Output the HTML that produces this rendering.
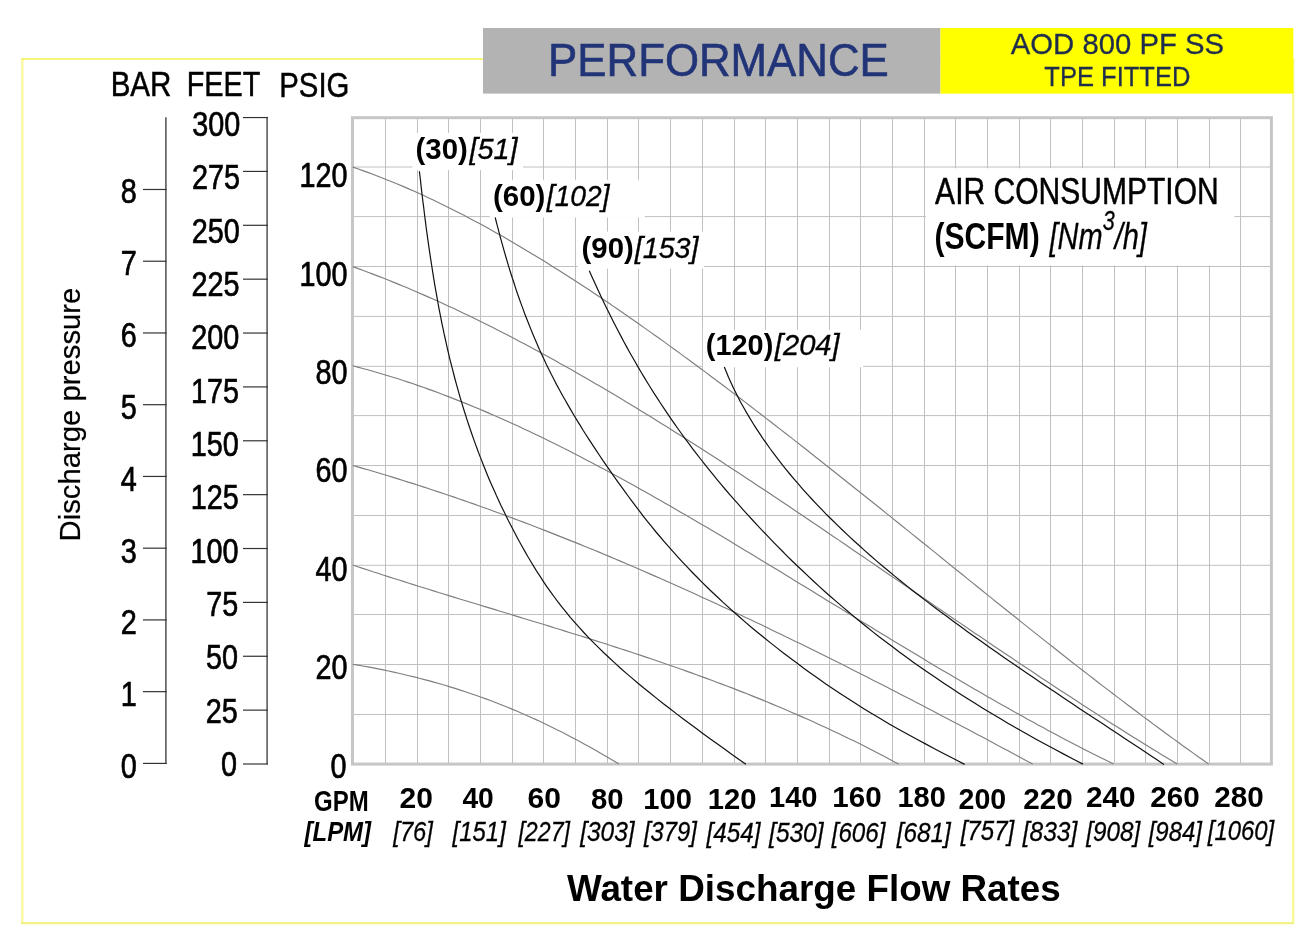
<!DOCTYPE html>
<html lang="en"><head><meta charset="utf-8"><title>Performance - AOD 800 PF SS</title>
<style>
html,body{margin:0;padding:0;background:#fff;}
body{width:1311px;height:943px;overflow:hidden;}
svg{display:block;font-family:"Liberation Sans",sans-serif;}
.b{font-weight:bold;}
.i{font-style:italic;}
</style></head><body>
<svg width="1311" height="943" viewBox="0 0 1311 943" role="img" aria-label="Performance chart AOD 800 PF SS TPE fitted">
<rect width="1311" height="943" fill="#fff"/>
<g fill="none" stroke-width="2.2"><path d="M22.3,59 V923.1" stroke="#fbf9a6" stroke-width="2.6"/><path d="M21,59 H1294" stroke="#f6f67c"/><path d="M21,923.1 H1294" stroke="#f2f286"/><path d="M1293.2,59 V923.1" stroke="#f5f88e"/></g>
<rect x="483" y="28" width="457.5" height="65.6" fill="#b3b3b3"/>
<rect x="940.5" y="28" width="352.8" height="65.6" fill="#ffff00"/>
<g stroke="#c0c0c0" stroke-width="1" fill="none">
<line x1="385.50" y1="117.7" x2="385.50" y2="764.1"/>
<line x1="417.50" y1="117.7" x2="417.50" y2="764.1"/>
<line x1="448.50" y1="117.7" x2="448.50" y2="764.1"/>
<line x1="480.50" y1="117.7" x2="480.50" y2="764.1"/>
<line x1="512.50" y1="117.7" x2="512.50" y2="764.1"/>
<line x1="543.50" y1="117.7" x2="543.50" y2="764.1"/>
<line x1="575.50" y1="117.7" x2="575.50" y2="764.1"/>
<line x1="607.50" y1="117.7" x2="607.50" y2="764.1"/>
<line x1="638.50" y1="117.7" x2="638.50" y2="764.1"/>
<line x1="670.50" y1="117.7" x2="670.50" y2="764.1"/>
<line x1="702.50" y1="117.7" x2="702.50" y2="764.1"/>
<line x1="734.50" y1="117.7" x2="734.50" y2="764.1"/>
<line x1="765.50" y1="117.7" x2="765.50" y2="764.1"/>
<line x1="797.50" y1="117.7" x2="797.50" y2="764.1"/>
<line x1="829.50" y1="117.7" x2="829.50" y2="764.1"/>
<line x1="860.50" y1="117.7" x2="860.50" y2="764.1"/>
<line x1="892.50" y1="117.7" x2="892.50" y2="764.1"/>
<line x1="924.50" y1="117.7" x2="924.50" y2="764.1"/>
<line x1="955.50" y1="117.7" x2="955.50" y2="764.1"/>
<line x1="987.50" y1="117.7" x2="987.50" y2="764.1"/>
<line x1="1019.50" y1="117.7" x2="1019.50" y2="764.1"/>
<line x1="1050.50" y1="117.7" x2="1050.50" y2="764.1"/>
<line x1="1082.50" y1="117.7" x2="1082.50" y2="764.1"/>
<line x1="1114.50" y1="117.7" x2="1114.50" y2="764.1"/>
<line x1="1145.50" y1="117.7" x2="1145.50" y2="764.1"/>
<line x1="1177.50" y1="117.7" x2="1177.50" y2="764.1"/>
<line x1="1209.50" y1="117.7" x2="1209.50" y2="764.1"/>
<line x1="1240.50" y1="117.7" x2="1240.50" y2="764.1"/>
<line x1="352.45" y1="714.50" x2="1271.4" y2="714.50"/>
<line x1="352.45" y1="664.50" x2="1271.4" y2="664.50"/>
<line x1="352.45" y1="614.50" x2="1271.4" y2="614.50"/>
<line x1="352.45" y1="565.30" x2="1271.4" y2="565.30"/>
<line x1="352.45" y1="515.50" x2="1271.4" y2="515.50"/>
<line x1="352.45" y1="465.50" x2="1271.4" y2="465.50"/>
<line x1="352.45" y1="415.60" x2="1271.4" y2="415.60"/>
<line x1="352.45" y1="366.30" x2="1271.4" y2="366.30"/>
<line x1="352.45" y1="316.40" x2="1271.4" y2="316.40"/>
<line x1="352.45" y1="266.50" x2="1271.4" y2="266.50"/>
<line x1="352.45" y1="216.60" x2="1271.4" y2="216.60"/>
<line x1="352.45" y1="167.00" x2="1271.4" y2="167.00"/>
</g>
<rect x="412.4" y="132.9" width="110.7" height="37.2" fill="#fff"/>
<rect x="489.8" y="179.9" width="155" height="37.6" fill="#fff"/>
<rect x="577.7" y="231.6" width="126.1" height="37" fill="#fff"/>
<rect x="926" y="168.3" width="308.3" height="97.2" fill="#fff"/>
<rect x="352.45" y="117.7" width="918.95" height="646.4" fill="none" stroke="#c6c6c6" stroke-width="3"/>
<g fill="none" stroke="#7e7e7e" stroke-width="1.15">
<path d="M352.7,167.1 L357.7,168.8 L362.8,170.6 L367.8,172.4 L372.8,174.3 L377.9,176.2 L382.9,178.2 L387.9,180.2 L393.0,182.2 L398.0,184.3 L403.1,186.4 L408.1,188.6 L413.1,190.8 L418.2,193.0 L423.2,195.3 L428.2,197.7 L433.3,200.1 L438.3,202.5 L443.3,204.9 L448.4,207.4 L453.4,209.9 L458.4,212.5 L463.5,215.1 L468.5,217.7 L473.5,220.4 L478.6,223.1 L483.6,225.8 L488.7,228.6 L493.7,231.4 L498.7,234.2 L503.8,237.1 L508.8,240.0 L513.8,242.9 L518.9,245.9 L523.9,248.9 L528.9,251.9 L534.0,254.9 L539.0,258.0 L544.0,261.1 L549.1,264.2 L554.1,267.4 L559.1,270.6 L564.2,273.8 L569.2,277.0 L574.3,280.2 L579.3,283.5 L584.3,286.8 L589.4,290.1 L594.4,293.5 L599.4,296.8 L604.5,300.2 L609.5,303.6 L614.5,307.1 L619.6,310.5 L624.6,314.0 L629.6,317.5 L634.7,321.0 L639.7,324.5 L644.7,328.1 L649.8,331.6 L654.8,335.2 L659.9,338.8 L664.9,342.4 L669.9,346.1 L675.0,349.7 L680.0,353.4 L685.0,357.1 L690.1,360.8 L695.1,364.5 L700.1,368.2 L705.2,371.9 L710.2,375.7 L715.2,379.5 L720.3,383.2 L725.3,387.0 L730.3,390.9 L735.4,394.7 L740.4,398.5 L745.5,402.4 L750.5,406.2 L755.5,410.1 L760.6,414.0 L765.6,417.9 L770.6,421.8 L775.7,425.7 L780.7,429.6 L785.7,433.5 L790.8,437.4 L795.8,441.4 L800.8,445.3 L805.9,449.3 L810.9,453.3 L815.9,457.2 L821.0,461.2 L826.0,465.2 L831.1,469.2 L836.1,473.2 L841.1,477.2 L846.2,481.2 L851.2,485.2 L856.2,489.2 L861.3,493.2 L866.3,497.3 L871.3,501.3 L876.4,505.3 L881.4,509.3 L886.4,513.4 L891.5,517.4 L896.5,521.5 L901.5,525.5 L906.6,529.6 L911.6,533.6 L916.7,537.7 L921.7,541.8 L926.7,545.8 L931.8,549.9 L936.8,553.9 L941.8,558.0 L946.9,562.1 L951.9,566.2 L956.9,570.2 L962.0,574.3 L967.0,578.4 L972.0,582.4 L977.1,586.5 L982.1,590.5 L987.1,594.6 L992.2,598.6 L997.2,602.7 L1002.3,606.7 L1007.3,610.8 L1012.3,614.8 L1017.4,618.8 L1022.4,622.9 L1027.4,626.9 L1032.5,630.9 L1037.5,634.9 L1042.5,638.9 L1047.6,642.9 L1052.6,646.8 L1057.6,650.8 L1062.7,654.8 L1067.7,658.7 L1072.7,662.7 L1077.8,666.6 L1082.8,670.5 L1087.9,674.4 L1092.9,678.3 L1097.9,682.2 L1103.0,686.1 L1108.0,689.9 L1113.0,693.8 L1118.1,697.6 L1123.1,701.4 L1128.1,705.2 L1133.2,709.0 L1138.2,712.8 L1143.2,716.6 L1148.3,720.3 L1153.3,724.1 L1158.3,727.8 L1163.4,731.5 L1168.4,735.2 L1173.5,738.9 L1178.5,742.5 L1183.5,746.2 L1188.6,749.8 L1193.6,753.4 L1198.6,757.0 L1203.7,760.5 L1208.7,764.1"/>
<path d="M352.7,266.6 L357.8,268.4 L362.8,270.3 L367.9,272.2 L372.9,274.1 L378.0,276.1 L383.1,278.0 L388.1,280.0 L393.2,282.1 L398.2,284.1 L403.3,286.2 L408.3,288.3 L413.4,290.5 L418.5,292.7 L423.5,294.9 L428.6,297.1 L433.6,299.3 L438.7,301.6 L443.8,303.9 L448.8,306.3 L453.9,308.6 L458.9,311.0 L464.0,313.4 L469.1,315.8 L474.1,318.3 L479.2,320.8 L484.2,323.3 L489.3,325.8 L494.3,328.3 L499.4,330.9 L504.5,333.5 L509.5,336.1 L514.6,338.7 L519.6,341.4 L524.7,344.1 L529.8,346.8 L534.8,349.5 L539.9,352.2 L544.9,355.0 L550.0,357.8 L555.1,360.6 L560.1,363.4 L565.2,366.2 L570.2,369.1 L575.3,372.0 L580.4,374.9 L585.4,377.8 L590.5,380.7 L595.5,383.7 L600.6,386.6 L605.6,389.6 L610.7,392.6 L615.8,395.6 L620.8,398.6 L625.9,401.7 L630.9,404.7 L636.0,407.8 L641.1,410.9 L646.1,414.0 L651.2,417.1 L656.2,420.3 L661.3,423.4 L666.4,426.6 L671.4,429.7 L676.5,432.9 L681.5,436.1 L686.6,439.3 L691.6,442.5 L696.7,445.8 L701.8,449.0 L706.8,452.3 L711.9,455.5 L716.9,458.8 L722.0,462.1 L727.1,465.4 L732.1,468.7 L737.2,472.0 L742.2,475.3 L747.3,478.7 L752.4,482.0 L757.4,485.4 L762.5,488.7 L767.5,492.1 L772.6,495.5 L777.6,498.8 L782.7,502.2 L787.8,505.6 L792.8,509.0 L797.9,512.4 L802.9,515.8 L808.0,519.3 L813.1,522.7 L818.1,526.1 L823.2,529.5 L828.2,533.0 L833.3,536.4 L838.4,539.9 L843.4,543.3 L848.5,546.8 L853.5,550.2 L858.6,553.7 L863.6,557.1 L868.7,560.6 L873.8,564.0 L878.8,567.5 L883.9,571.0 L888.9,574.4 L894.0,577.9 L899.1,581.4 L904.1,584.8 L909.2,588.3 L914.2,591.8 L919.3,595.2 L924.4,598.7 L929.4,602.1 L934.5,605.6 L939.5,609.1 L944.6,612.5 L949.6,616.0 L954.7,619.4 L959.8,622.9 L964.8,626.3 L969.9,629.7 L974.9,633.2 L980.0,636.6 L985.1,640.0 L990.1,643.5 L995.2,646.9 L1000.2,650.3 L1005.3,653.7 L1010.4,657.1 L1015.4,660.5 L1020.5,663.9 L1025.5,667.3 L1030.6,670.6 L1035.7,674.0 L1040.7,677.4 L1045.8,680.7 L1050.8,684.0 L1055.9,687.4 L1060.9,690.7 L1066.0,694.0 L1071.1,697.3 L1076.1,700.6 L1081.2,703.9 L1086.2,707.2 L1091.3,710.5 L1096.4,713.7 L1101.4,717.0 L1106.5,720.2 L1111.5,723.4 L1116.6,726.6 L1121.7,729.8 L1126.7,733.0 L1131.8,736.2 L1136.8,739.3 L1141.9,742.5 L1146.9,745.6 L1152.0,748.7 L1157.1,751.8 L1162.1,754.9 L1167.2,758.0 L1172.2,761.1 L1177.3,764.1"/>
<path d="M352.7,365.8 L357.7,367.1 L362.8,368.5 L367.8,369.8 L372.9,371.2 L377.9,372.7 L382.9,374.2 L388.0,375.7 L393.0,377.3 L398.1,378.8 L403.1,380.5 L408.1,382.1 L413.2,383.8 L418.2,385.6 L423.2,387.3 L428.3,389.1 L433.3,390.9 L438.4,392.8 L443.4,394.7 L448.4,396.6 L453.5,398.6 L458.5,400.6 L463.6,402.6 L468.6,404.6 L473.6,406.7 L478.7,408.8 L483.7,410.9 L488.8,413.1 L493.8,415.3 L498.8,417.5 L503.9,419.7 L508.9,422.0 L514.0,424.3 L519.0,426.6 L524.0,429.0 L529.1,431.3 L534.1,433.7 L539.1,436.1 L544.2,438.6 L549.2,441.0 L554.3,443.5 L559.3,446.0 L564.3,448.6 L569.4,451.1 L574.4,453.7 L579.5,456.3 L584.5,458.9 L589.5,461.6 L594.6,464.2 L599.6,466.9 L604.7,469.6 L609.7,472.3 L614.7,475.0 L619.8,477.8 L624.8,480.5 L629.8,483.3 L634.9,486.1 L639.9,488.9 L645.0,491.7 L650.0,494.6 L655.0,497.4 L660.1,500.3 L665.1,503.2 L670.2,506.1 L675.2,509.0 L680.2,511.9 L685.3,514.8 L690.3,517.8 L695.4,520.7 L700.4,523.7 L705.4,526.6 L710.5,529.6 L715.5,532.6 L720.6,535.6 L725.6,538.6 L730.6,541.6 L735.7,544.7 L740.7,547.7 L745.7,550.7 L750.8,553.8 L755.8,556.8 L760.9,559.9 L765.9,562.9 L770.9,566.0 L776.0,569.1 L781.0,572.1 L786.1,575.2 L791.1,578.3 L796.1,581.4 L801.2,584.4 L806.2,587.5 L811.3,590.6 L816.3,593.7 L821.3,596.8 L826.4,599.9 L831.4,603.0 L836.5,606.1 L841.5,609.1 L846.5,612.2 L851.6,615.3 L856.6,618.4 L861.6,621.5 L866.7,624.6 L871.7,627.6 L876.8,630.7 L881.8,633.8 L886.8,636.8 L891.9,639.9 L896.9,643.0 L902.0,646.0 L907.0,649.1 L912.0,652.1 L917.1,655.1 L922.1,658.1 L927.2,661.2 L932.2,664.2 L937.2,667.2 L942.3,670.2 L947.3,673.1 L952.3,676.1 L957.4,679.1 L962.4,682.0 L967.5,685.0 L972.5,687.9 L977.5,690.8 L982.6,693.8 L987.6,696.7 L992.7,699.5 L997.7,702.4 L1002.7,705.3 L1007.8,708.1 L1012.8,711.0 L1017.9,713.8 L1022.9,716.6 L1027.9,719.4 L1033.0,722.1 L1038.0,724.9 L1043.1,727.6 L1048.1,730.4 L1053.1,733.1 L1058.2,735.8 L1063.2,738.4 L1068.2,741.1 L1073.3,743.7 L1078.3,746.3 L1083.4,748.9 L1088.4,751.5 L1093.4,754.1 L1098.5,756.6 L1103.5,759.1 L1108.6,761.6 L1113.6,764.1"/>
<path d="M352.7,465.5 L357.7,466.9 L362.8,468.4 L367.8,469.8 L372.9,471.3 L377.9,472.8 L382.9,474.3 L388.0,475.8 L393.0,477.4 L398.0,478.9 L403.1,480.5 L408.1,482.1 L413.2,483.6 L418.2,485.3 L423.2,486.9 L428.3,488.5 L433.3,490.2 L438.3,491.9 L443.4,493.5 L448.4,495.2 L453.5,496.9 L458.5,498.7 L463.5,500.4 L468.6,502.2 L473.6,503.9 L478.6,505.7 L483.7,507.5 L488.7,509.3 L493.8,511.2 L498.8,513.0 L503.8,514.8 L508.9,516.7 L513.9,518.6 L518.9,520.5 L524.0,522.4 L529.0,524.3 L534.1,526.2 L539.1,528.2 L544.1,530.1 L549.2,532.1 L554.2,534.1 L559.2,536.1 L564.3,538.1 L569.3,540.1 L574.4,542.1 L579.4,544.1 L584.4,546.2 L589.5,548.3 L594.5,550.3 L599.6,552.4 L604.6,554.5 L609.6,556.6 L614.7,558.7 L619.7,560.9 L624.7,563.0 L629.8,565.2 L634.8,567.3 L639.9,569.5 L644.9,571.7 L649.9,573.9 L655.0,576.1 L660.0,578.3 L665.0,580.5 L670.1,582.8 L675.1,585.0 L680.2,587.3 L685.2,589.5 L690.2,591.8 L695.3,594.1 L700.3,596.4 L705.3,598.7 L710.4,601.0 L715.4,603.3 L720.5,605.7 L725.5,608.0 L730.5,610.3 L735.6,612.7 L740.6,615.1 L745.6,617.4 L750.7,619.8 L755.7,622.2 L760.8,624.6 L765.8,627.0 L770.8,629.5 L775.9,631.9 L780.9,634.3 L785.9,636.8 L791.0,639.2 L796.0,641.7 L801.1,644.1 L806.1,646.6 L811.1,649.1 L816.2,651.6 L821.2,654.1 L826.3,656.6 L831.3,659.1 L836.3,661.6 L841.4,664.1 L846.4,666.6 L851.4,669.2 L856.5,671.7 L861.5,674.3 L866.6,676.8 L871.6,679.4 L876.6,682.0 L881.7,684.5 L886.7,687.1 L891.7,689.7 L896.8,692.3 L901.8,694.9 L906.9,697.5 L911.9,700.1 L916.9,702.7 L922.0,705.3 L927.0,708.0 L932.0,710.6 L937.1,713.2 L942.1,715.9 L947.2,718.5 L952.2,721.2 L957.2,723.8 L962.3,726.5 L967.3,729.1 L972.3,731.8 L977.4,734.5 L982.4,737.1 L987.5,739.8 L992.5,742.5 L997.5,745.2 L1002.6,747.9 L1007.6,750.6 L1012.6,753.3 L1017.7,756.0 L1022.7,758.7 L1027.8,761.4 L1032.8,764.1"/>
<path d="M352.7,565.0 L357.8,566.7 L362.8,568.4 L367.9,570.0 L372.9,571.7 L378.0,573.3 L383.0,575.0 L388.1,576.6 L393.1,578.2 L398.2,579.8 L403.3,581.4 L408.3,583.0 L413.4,584.6 L418.4,586.2 L423.5,587.8 L428.5,589.3 L433.6,590.9 L438.6,592.5 L443.7,594.0 L448.8,595.6 L453.8,597.1 L458.9,598.7 L463.9,600.2 L469.0,601.8 L474.0,603.3 L479.1,604.8 L484.1,606.4 L489.2,607.9 L494.3,609.4 L499.3,611.0 L504.4,612.5 L509.4,614.0 L514.5,615.6 L519.5,617.1 L524.6,618.7 L529.6,620.2 L534.7,621.7 L539.8,623.3 L544.8,624.8 L549.9,626.4 L554.9,628.0 L560.0,629.5 L565.0,631.1 L570.1,632.7 L575.1,634.2 L580.2,635.8 L585.3,637.4 L590.3,639.0 L595.4,640.6 L600.4,642.2 L605.5,643.8 L610.5,645.5 L615.6,647.1 L620.6,648.7 L625.7,650.4 L630.8,652.0 L635.8,653.7 L640.9,655.4 L645.9,657.1 L651.0,658.8 L656.0,660.5 L661.1,662.2 L666.1,664.0 L671.2,665.7 L676.3,667.5 L681.3,669.3 L686.4,671.1 L691.4,672.9 L696.5,674.7 L701.5,676.6 L706.6,678.4 L711.6,680.3 L716.7,682.2 L721.8,684.1 L726.8,686.0 L731.9,687.9 L736.9,689.9 L742.0,691.9 L747.0,693.8 L752.1,695.9 L757.1,697.9 L762.2,699.9 L767.3,702.0 L772.3,704.1 L777.4,706.2 L782.4,708.3 L787.5,710.5 L792.5,712.7 L797.6,714.9 L802.6,717.1 L807.7,719.3 L812.8,721.6 L817.8,723.9 L822.9,726.2 L827.9,728.5 L833.0,730.9 L838.0,733.3 L843.1,735.7 L848.1,738.2 L853.2,740.6 L858.3,743.1 L863.3,745.6 L868.4,748.2 L873.4,750.8 L878.5,753.4 L883.5,756.0 L888.6,758.7 L893.6,761.4 L898.7,764.1"/>
<path d="M352.7,664.2 L357.8,665.1 L362.9,666.0 L368.1,666.9 L373.2,667.9 L378.3,668.9 L383.4,669.9 L388.5,671.0 L393.7,672.1 L398.8,673.3 L403.9,674.5 L409.0,675.7 L414.2,676.9 L419.3,678.2 L424.4,679.6 L429.5,680.9 L434.6,682.4 L439.8,683.8 L444.9,685.3 L450.0,686.9 L455.1,688.4 L460.2,690.1 L465.4,691.7 L470.5,693.5 L475.6,695.2 L480.7,697.0 L485.9,698.9 L491.0,700.8 L496.1,702.7 L501.2,704.7 L506.3,706.8 L511.5,708.9 L516.6,711.0 L521.7,713.2 L526.8,715.5 L531.9,717.8 L537.1,720.1 L542.2,722.5 L547.3,724.9 L552.4,727.4 L557.5,730.0 L562.7,732.6 L567.8,735.2 L572.9,737.9 L578.0,740.6 L583.2,743.4 L588.3,746.2 L593.4,749.1 L598.5,752.0 L603.6,755.0 L608.8,758.0 L613.9,761.0 L619.0,764.1"/>
</g>
<rect x="702.9" y="329.8" width="160.3" height="37.4" fill="#fff"/>
<g fill="none" stroke="#111" stroke-width="1.2">
<path d="M419.4,171.2 L420.0,176.3 L420.6,181.3 L421.1,186.4 L421.7,191.5 L422.3,196.5 L422.9,201.6 L423.6,206.7 L424.2,211.8 L424.8,216.8 L425.5,221.9 L426.1,227.0 L426.8,232.0 L427.5,237.1 L428.2,242.2 L428.9,247.2 L429.7,252.3 L430.4,257.4 L431.2,262.4 L432.0,267.5 L432.8,272.6 L433.6,277.7 L434.4,282.7 L435.3,287.8 L436.2,292.9 L437.1,297.9 L438.0,303.0 L438.9,308.1 L439.9,313.1 L440.9,318.2 L441.9,323.3 L443.0,328.3 L444.0,333.4 L445.2,338.5 L446.3,343.6 L447.4,348.6 L448.6,353.7 L449.8,358.8 L451.1,363.8 L452.4,368.9 L453.7,374.0 L455.0,379.0 L456.4,384.1 L457.8,389.2 L459.2,394.2 L460.7,399.3 L462.2,404.4 L463.8,409.5 L465.4,414.5 L467.0,419.6 L468.7,424.7 L470.4,429.7 L472.1,434.8 L473.9,439.9 L475.7,444.9 L477.6,450.0 L479.5,455.1 L481.5,460.1 L483.5,465.2 L485.5,470.3 L487.6,475.4 L489.7,480.4 L491.9,485.5 L494.2,490.6 L496.4,495.6 L498.8,500.7 L501.1,505.8 L503.6,510.8 L506.1,515.9 L508.6,521.0 L511.2,526.0 L513.8,531.1 L516.5,536.2 L519.2,541.3 L522.0,546.3 L524.9,551.4 L527.8,556.5 L530.8,561.5 L533.9,566.6 L537.0,571.7 L540.3,576.7 L543.6,581.8 L547.0,586.9 L550.6,591.9 L554.3,597.0 L558.1,602.1 L562.0,607.2 L566.1,612.2 L570.3,617.3 L574.7,622.4 L579.2,627.4 L583.8,632.5 L588.6,637.6 L593.5,642.6 L598.6,647.7 L603.8,652.8 L609.2,657.8 L614.7,662.9 L620.3,668.0 L626.1,673.1 L632.0,678.1 L638.0,683.2 L644.1,688.3 L650.4,693.3 L656.7,698.4 L663.1,703.5 L669.7,708.5 L676.3,713.6 L683.0,718.7 L689.8,723.7 L696.6,728.8 L703.5,733.9 L710.4,739.0 L717.5,744.0 L724.5,749.1 L731.6,754.2 L738.7,759.2 L745.9,764.3"/>
<path d="M495.2,217.5 L496.5,222.6 L497.8,227.6 L499.1,232.7 L500.5,237.8 L501.9,242.8 L503.3,247.9 L504.7,252.9 L506.2,258.0 L507.7,263.1 L509.2,268.1 L510.8,273.2 L512.4,278.3 L514.1,283.3 L515.7,288.4 L517.4,293.5 L519.2,298.5 L521.0,303.6 L522.9,308.6 L524.7,313.7 L526.7,318.8 L528.7,323.8 L530.7,328.9 L532.8,334.0 L534.9,339.0 L537.1,344.1 L539.3,349.2 L541.6,354.2 L544.0,359.3 L546.4,364.4 L548.9,369.4 L551.4,374.5 L554.0,379.5 L556.6,384.6 L559.4,389.7 L562.1,394.7 L565.0,399.8 L567.9,404.9 L570.8,409.9 L573.8,415.0 L576.9,420.1 L580.0,425.1 L583.1,430.2 L586.3,435.2 L589.6,440.3 L592.9,445.4 L596.2,450.4 L599.6,455.5 L603.0,460.6 L606.5,465.6 L610.0,470.7 L613.6,475.8 L617.1,480.8 L620.8,485.9 L624.4,490.9 L628.1,496.0 L631.9,501.1 L635.7,506.1 L639.5,511.2 L643.4,516.3 L647.4,521.3 L651.5,526.4 L655.6,531.5 L659.9,536.5 L664.2,541.6 L668.6,546.7 L673.1,551.7 L677.7,556.8 L682.3,561.8 L687.1,566.9 L691.9,572.0 L696.9,577.0 L701.9,582.1 L707.1,587.2 L712.3,592.2 L717.7,597.3 L723.1,602.4 L728.7,607.4 L734.3,612.5 L740.1,617.5 L745.9,622.6 L751.9,627.7 L758.0,632.7 L764.2,637.8 L770.5,642.9 L776.9,647.9 L783.4,653.0 L790.1,658.1 L796.9,663.1 L803.7,668.2 L810.7,673.2 L817.9,678.3 L825.1,683.4 L832.6,688.4 L840.1,693.5 L847.9,698.6 L855.7,703.6 L863.8,708.7 L872.1,713.8 L880.6,718.8 L889.2,723.9 L898.1,729.0 L907.2,734.0 L916.4,739.1 L925.9,744.1 L935.4,749.2 L945.0,754.3 L954.8,759.3 L964.6,764.4"/>
<path d="M589.3,270.8 L591.6,275.9 L593.9,281.0 L596.2,286.1 L598.5,291.1 L600.9,296.2 L603.3,301.3 L605.8,306.4 L608.3,311.5 L610.8,316.6 L613.4,321.7 L616.0,326.7 L618.6,331.8 L621.3,336.9 L624.0,342.0 L626.8,347.1 L629.6,352.2 L632.5,357.3 L635.4,362.3 L638.3,367.4 L641.3,372.5 L644.4,377.6 L647.5,382.7 L650.6,387.8 L653.8,392.9 L657.1,397.9 L660.4,403.0 L663.8,408.1 L667.2,413.2 L670.7,418.3 L674.2,423.4 L677.8,428.5 L681.4,433.5 L685.1,438.6 L688.9,443.7 L692.7,448.8 L696.6,453.9 L700.6,459.0 L704.6,464.1 L708.6,469.1 L712.7,474.2 L716.9,479.3 L721.1,484.4 L725.4,489.5 L729.8,494.6 L734.2,499.7 L738.7,504.7 L743.2,509.8 L747.8,514.9 L752.5,520.0 L757.2,525.1 L761.9,530.2 L766.8,535.2 L771.7,540.3 L776.6,545.4 L781.7,550.5 L786.7,555.6 L791.9,560.7 L797.2,565.8 L802.5,570.8 L807.9,575.9 L813.3,581.0 L818.9,586.1 L824.5,591.2 L830.2,596.3 L836.1,601.4 L842.0,606.4 L848.0,611.5 L854.1,616.6 L860.3,621.7 L866.5,626.8 L872.9,631.9 L879.4,637.0 L886.1,642.0 L892.8,647.1 L899.6,652.2 L906.6,657.3 L913.6,662.4 L920.8,667.5 L928.1,672.6 L935.5,677.6 L943.1,682.7 L950.8,687.8 L958.6,692.9 L966.5,698.0 L974.6,703.1 L982.8,708.2 L991.2,713.2 L999.7,718.3 L1008.3,723.4 L1017.1,728.5 L1026.0,733.6 L1035.1,738.7 L1044.4,743.8 L1053.8,748.8 L1063.3,753.9 L1073.0,759.0 L1082.9,764.1"/>
<path d="M724.3,367.0 L726.4,372.1 L728.5,377.2 L730.8,382.3 L733.2,387.4 L735.7,392.5 L738.2,397.6 L740.9,402.7 L743.8,407.8 L746.7,412.9 L749.7,417.9 L752.8,423.0 L756.0,428.1 L759.4,433.2 L762.8,438.3 L766.4,443.4 L770.0,448.5 L773.8,453.6 L777.6,458.7 L781.6,463.8 L785.6,468.9 L789.8,474.0 L794.1,479.1 L798.5,484.2 L802.9,489.3 L807.5,494.4 L812.2,499.5 L817.0,504.6 L821.9,509.7 L826.8,514.8 L831.9,519.8 L837.1,524.9 L842.4,530.0 L847.8,535.1 L853.3,540.2 L858.9,545.3 L864.5,550.4 L870.3,555.5 L876.2,560.6 L882.2,565.7 L888.3,570.8 L894.4,575.9 L900.7,581.0 L907.1,586.1 L913.5,591.2 L920.1,596.3 L926.7,601.4 L933.4,606.5 L940.1,611.6 L947.0,616.6 L953.9,621.7 L960.9,626.8 L967.9,631.9 L975.0,637.0 L982.2,642.1 L989.4,647.2 L996.7,652.3 L1004.0,657.4 L1011.4,662.5 L1018.8,667.6 L1026.3,672.7 L1033.8,677.8 L1041.3,682.9 L1048.9,688.0 L1056.5,693.1 L1064.1,698.2 L1071.7,703.3 L1079.3,708.4 L1087.0,713.5 L1094.7,718.5 L1102.4,723.6 L1110.1,728.7 L1117.8,733.8 L1125.5,738.9 L1133.2,744.0 L1140.9,749.1 L1148.6,754.2 L1156.2,759.3 L1163.9,764.4"/>
</g>
<text transform="translate(548.10,75.8) scale(0.9672,1)" font-size="45.3" fill="#223478" stroke="#223478" stroke-width="0.6">PERFORMANCE</text>
<text transform="translate(1010.80,53.5) scale(0.9636,1)" font-size="30.4" fill="#1f2d4d" stroke="#1f2d4d" stroke-width="0.3">AOD 800 PF SS</text>
<text transform="translate(1044.30,85.6) scale(0.9394,1)" font-size="27.2" fill="#1f2d4d" stroke="#1f2d4d" stroke-width="0.3">TPE FITTED</text>
<text transform="translate(110.63,96) scale(0.8333,1)" font-size="35.5" stroke="#000" stroke-width="0.5">BAR</text>
<text transform="translate(186.68,96.1) scale(0.8114,1)" font-size="35.5" stroke="#000" stroke-width="0.5">FEET</text>
<text transform="translate(279.25,96.8) scale(0.8272,1)" font-size="35.5" stroke="#000" stroke-width="0.5">PSIG</text>
<text transform="translate(314.07,810.6) scale(0.8302,1)" font-size="28.9" class="b">GPM</text>
<text transform="translate(304.54,840.8) scale(0.8407,1)" font-size="28.5" class="b i">[LPM]</text>
<text transform="translate(567.00,900.6) scale(1.0090,1)" font-size="36.5" class="b">Water Discharge Flow Rates</text>
<text transform="translate(935.10,204) scale(0.8121,1)" font-size="37" stroke="#000" stroke-width="0.5">AIR CONSUMPTION</text>
<text transform="translate(934.47,248.8) scale(0.8127,1)" font-size="37" class="b">(SCFM)</text>
<text transform="translate(1049.48,248.8) scale(0.7841,1)" font-size="37" class="i" stroke="#000" stroke-width="0.3">[Nm<tspan dy="-18.5" font-size="27.5">3</tspan><tspan dy="18.5">/h]</tspan></text>
<text transform="translate(415.57,158.7) scale(1.0271,1)" font-size="28.6" class="b">(30)</text>
<text transform="translate(469.45,158.7) scale(0.9538,1)" font-size="30.3" class="i" stroke="#000" stroke-width="0.35">[51]</text>
<text transform="translate(492.97,206.0) scale(1.0312,1)" font-size="28.6" class="b">(60)</text>
<text transform="translate(546.83,206.0) scale(0.9304,1)" font-size="30.3" class="i" stroke="#000" stroke-width="0.35">[102]</text>
<text transform="translate(581.57,258.0) scale(1.0271,1)" font-size="28.6" class="b">(90)</text>
<text transform="translate(634.65,258.0) scale(0.9493,1)" font-size="30.3" class="i" stroke="#000" stroke-width="0.35">[153]</text>
<text transform="translate(705.79,354.6) scale(1.0109,1)" font-size="28.6" class="b">(120)</text>
<text transform="translate(774.86,354.6) scale(0.9623,1)" font-size="30.3" class="i" stroke="#000" stroke-width="0.35">[204]</text>
<text transform="translate(399.45,807.8) scale(1.0467,1)" font-size="28.7" class="b">20</text>
<text transform="translate(462.40,807.8) scale(0.9839,1)" font-size="28.7" class="b">40</text>
<text transform="translate(527.55,807.8) scale(1.0467,1)" font-size="28.7" class="b">60</text>
<text transform="translate(590.98,808.7) scale(1.0200,1)" font-size="28.7" class="b">80</text>
<text transform="translate(643.27,808.7) scale(1.0156,1)" font-size="28.7" class="b">100</text>
<text transform="translate(707.86,808.7) scale(1.0178,1)" font-size="28.7" class="b">120</text>
<text transform="translate(768.97,807.3) scale(1.0156,1)" font-size="28.7" class="b">140</text>
<text transform="translate(832.34,807.3) scale(1.0311,1)" font-size="28.7" class="b">160</text>
<text transform="translate(897.38,807.3) scale(1.0111,1)" font-size="28.7" class="b">180</text>
<text transform="translate(958.50,809.0) scale(0.9957,1)" font-size="28.7" class="b">200</text>
<text transform="translate(1023.27,808.5) scale(1.0348,1)" font-size="28.7" class="b">220</text>
<text transform="translate(1085.96,807.2) scale(1.0370,1)" font-size="28.7" class="b">240</text>
<text transform="translate(1150.17,807.2) scale(1.0348,1)" font-size="28.7" class="b">260</text>
<text transform="translate(1214.27,807.2) scale(1.0348,1)" font-size="28.7" class="b">280</text>
<text transform="translate(393.36,840.8) scale(0.8562,1)" font-size="27.7" class="i" stroke="#000" stroke-width="0.3">[76]</text>
<text transform="translate(452.57,840.8) scale(0.8651,1)" font-size="27.7" class="i" stroke="#000" stroke-width="0.3">[151]</text>
<text transform="translate(518.44,840.8) scale(0.8365,1)" font-size="27.7" class="i" stroke="#000" stroke-width="0.3">[227]</text>
<text transform="translate(580.18,840.8) scale(0.8841,1)" font-size="27.7" class="i" stroke="#000" stroke-width="0.3">[303]</text>
<text transform="translate(643.96,840.8) scale(0.8603,1)" font-size="27.7" class="i" stroke="#000" stroke-width="0.3">[379]</text>
<text transform="translate(706.57,841.5) scale(0.8746,1)" font-size="27.7" class="i" stroke="#000" stroke-width="0.3">[454]</text>
<text transform="translate(769.08,842.0) scale(0.8841,1)" font-size="27.7" class="i" stroke="#000" stroke-width="0.3">[530]</text>
<text transform="translate(831.67,842.0) scale(0.8746,1)" font-size="27.7" class="i" stroke="#000" stroke-width="0.3">[606]</text>
<text transform="translate(896.68,841.5) scale(0.8794,1)" font-size="27.7" class="i" stroke="#000" stroke-width="0.3">[681]</text>
<text transform="translate(960.67,840.4) scale(0.8698,1)" font-size="27.7" class="i" stroke="#000" stroke-width="0.3">[757]</text>
<text transform="translate(1022.69,841.3) scale(0.8857,1)" font-size="27.7" class="i" stroke="#000" stroke-width="0.3">[833]</text>
<text transform="translate(1086.37,841.3) scale(0.8746,1)" font-size="27.7" class="i" stroke="#000" stroke-width="0.3">[908]</text>
<text transform="translate(1148.67,841.3) scale(0.8667,1)" font-size="27.7" class="i" stroke="#000" stroke-width="0.3">[984]</text>
<text transform="translate(1207.76,839.9) scale(0.8620,1)" font-size="27.7" class="i" stroke="#000" stroke-width="0.3">[1060]</text>
<text transform="translate(79.6,541.42) rotate(-90) scale(1.0097,1)" font-size="29.0" stroke="#000" stroke-width="0.2">Discharge pressure</text>
<g stroke="#333" stroke-width="1.2" fill="none">
<line x1="165.9" y1="117.2" x2="165.9" y2="764" stroke="#505050" stroke-width="1.5"/>
<line x1="143" y1="763.40" x2="166.6" y2="763.40"/>
<line x1="143" y1="691.66" x2="166.6" y2="691.66"/>
<line x1="143" y1="619.92" x2="166.6" y2="619.92"/>
<line x1="143" y1="548.18" x2="166.6" y2="548.18"/>
<line x1="143" y1="476.44" x2="166.6" y2="476.44"/>
<line x1="143" y1="404.70" x2="166.6" y2="404.70"/>
<line x1="143" y1="332.96" x2="166.6" y2="332.96"/>
<line x1="143" y1="261.22" x2="166.6" y2="261.22"/>
<line x1="143" y1="189.48" x2="166.6" y2="189.48"/>
<line x1="267.1" y1="117" x2="267.1" y2="764.6" stroke="#505050" stroke-width="1.5"/>
<line x1="243" y1="764.00" x2="267.8" y2="764.00"/>
<line x1="243" y1="710.13" x2="267.8" y2="710.13"/>
<line x1="243" y1="656.26" x2="267.8" y2="656.26"/>
<line x1="243" y1="602.39" x2="267.8" y2="602.39"/>
<line x1="243" y1="548.52" x2="267.8" y2="548.52"/>
<line x1="243" y1="494.65" x2="267.8" y2="494.65"/>
<line x1="243" y1="440.78" x2="267.8" y2="440.78"/>
<line x1="243" y1="386.91" x2="267.8" y2="386.91"/>
<line x1="243" y1="333.04" x2="267.8" y2="333.04"/>
<line x1="243" y1="279.17" x2="267.8" y2="279.17"/>
<line x1="243" y1="225.30" x2="267.8" y2="225.30"/>
<line x1="243" y1="171.43" x2="267.8" y2="171.43"/>
<line x1="243" y1="117.56" x2="267.8" y2="117.56"/>
</g>
<text transform="translate(128.7,778.2) scale(0.8,1)" font-size="36" text-anchor="middle" class="" stroke="#000" stroke-width="0.7">0</text>
<text transform="translate(128.7,706.34) scale(0.8,1)" font-size="36" text-anchor="middle" class="" stroke="#000" stroke-width="0.7">1</text>
<text transform="translate(128.7,634.48) scale(0.8,1)" font-size="36" text-anchor="middle" class="" stroke="#000" stroke-width="0.7">2</text>
<text transform="translate(128.7,562.62) scale(0.8,1)" font-size="36" text-anchor="middle" class="" stroke="#000" stroke-width="0.7">3</text>
<text transform="translate(128.7,490.76) scale(0.8,1)" font-size="36" text-anchor="middle" class="" stroke="#000" stroke-width="0.7">4</text>
<text transform="translate(128.7,418.9) scale(0.8,1)" font-size="36" text-anchor="middle" class="" stroke="#000" stroke-width="0.7">5</text>
<text transform="translate(128.7,347.04) scale(0.8,1)" font-size="36" text-anchor="middle" class="" stroke="#000" stroke-width="0.7">6</text>
<text transform="translate(128.7,275.18) scale(0.8,1)" font-size="36" text-anchor="middle" class="" stroke="#000" stroke-width="0.7">7</text>
<text transform="translate(128.7,203.32) scale(0.8,1)" font-size="36" text-anchor="middle" class="" stroke="#000" stroke-width="0.7">8</text>
<text transform="translate(236.96,775.96) scale(0.8,1)" font-size="36" text-anchor="end" class="" stroke="#000" stroke-width="0.7">0</text>
<text transform="translate(237.78,722.63) scale(0.8,1)" font-size="36" text-anchor="end" class="" stroke="#000" stroke-width="0.7">25</text>
<text transform="translate(238.0,669.3) scale(0.8,1)" font-size="36" text-anchor="end" class="" stroke="#000" stroke-width="0.7">50</text>
<text transform="translate(238.22,615.97) scale(0.8,1)" font-size="36" text-anchor="end" class="" stroke="#000" stroke-width="0.7">75</text>
<text transform="translate(238.44,562.64) scale(0.8,1)" font-size="36" text-anchor="end" class="" stroke="#000" stroke-width="0.7">100</text>
<text transform="translate(238.66,509.31) scale(0.8,1)" font-size="36" text-anchor="end" class="" stroke="#000" stroke-width="0.7">125</text>
<text transform="translate(238.88,455.98) scale(0.8,1)" font-size="36" text-anchor="end" class="" stroke="#000" stroke-width="0.7">150</text>
<text transform="translate(239.1,402.65) scale(0.8,1)" font-size="36" text-anchor="end" class="" stroke="#000" stroke-width="0.7">175</text>
<text transform="translate(239.32,349.32) scale(0.8,1)" font-size="36" text-anchor="end" class="" stroke="#000" stroke-width="0.7">200</text>
<text transform="translate(239.54,295.99) scale(0.8,1)" font-size="36" text-anchor="end" class="" stroke="#000" stroke-width="0.7">225</text>
<text transform="translate(239.76,242.66) scale(0.8,1)" font-size="36" text-anchor="end" class="" stroke="#000" stroke-width="0.7">250</text>
<text transform="translate(239.98,189.33) scale(0.8,1)" font-size="36" text-anchor="end" class="" stroke="#000" stroke-width="0.7">275</text>
<text transform="translate(240.2,136.0) scale(0.8,1)" font-size="36" text-anchor="end" class="" stroke="#000" stroke-width="0.7">300</text>
<text transform="translate(346.6,777.5) scale(0.8,1)" font-size="36" text-anchor="end" class="" stroke="#000" stroke-width="0.7">0</text>
<text transform="translate(347.6,679.15) scale(0.8,1)" font-size="36" text-anchor="end" class="" stroke="#000" stroke-width="0.7">20</text>
<text transform="translate(347.6,580.8) scale(0.8,1)" font-size="36" text-anchor="end" class="" stroke="#000" stroke-width="0.7">40</text>
<text transform="translate(347.6,482.45) scale(0.8,1)" font-size="36" text-anchor="end" class="" stroke="#000" stroke-width="0.7">60</text>
<text transform="translate(347.6,384.1) scale(0.8,1)" font-size="36" text-anchor="end" class="" stroke="#000" stroke-width="0.7">80</text>
<text transform="translate(347.6,285.75) scale(0.8,1)" font-size="36" text-anchor="end" class="" stroke="#000" stroke-width="0.7">100</text>
<text transform="translate(347.6,187.4) scale(0.8,1)" font-size="36" text-anchor="end" class="" stroke="#000" stroke-width="0.7">120</text>
</svg></body></html>
